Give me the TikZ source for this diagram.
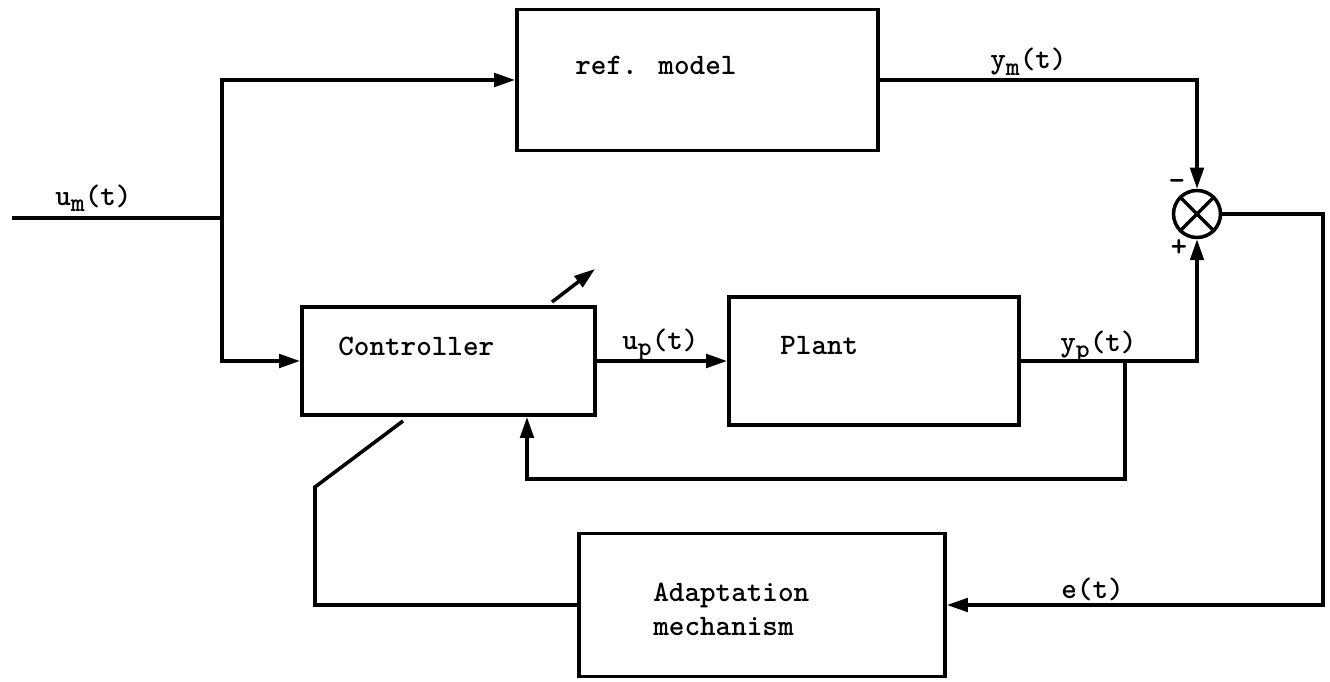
\documentclass[tikz,border=0pt]{standalone}
\usepackage{fontspec}
\usetikzlibrary{arrows.meta,calc}
\newcommand\lsub[1]{\raisebox{-0.5ex}{\fontsize{15}{15}\selectfont #1}}
\begin{document}
\begin{tikzpicture}[x=0.02cm,y=-0.02cm,
  blk/.style={draw, line width=2.2pt, inner sep=0pt},
  conn/.style={line width=2pt},
  arr/.style={conn, -{Triangle[length=0.42cm,width=0.27cm]}},
  txt/.style={font=\ttfamily\bfseries\fontsize{16.9}{20}\selectfont, inner sep=0pt, anchor=west},
  sgn/.style={font=\ttfamily\bfseries\fontsize{18}{20}\selectfont, inner sep=0pt}]
\useasboundingbox (0,0) rectangle (1330,682);

% blocks
\node[blk, minimum width=7.22cm, minimum height=2.82cm] (ref) at (697.5,80) {};
\node[blk, minimum width=5.86cm, minimum height=2.16cm] (ctrl) at (448.5,361) {};
\node[blk, minimum width=5.80cm, minimum height=2.56cm] (plant) at (874,361) {};
\node[blk, minimum width=7.32cm, minimum height=2.86cm] (adapt) at (762,605) {};
\node[draw, circle, line width=2pt, minimum size=0.94cm, inner sep=0pt] (sum) at (1197,214) {};
\draw[line width=2pt] (sum.north west) -- (sum.south east) (sum.north east) -- (sum.south west);

% texts
\node[txt] (tref) at (575,65) {ref. model};
\node[txt] (tctrl) at (338,346) {Controller};
\node[txt] (tplant) at (780,346) {Plant};
\node[txt] (tad1) at (653,595) {Adaptation};
\node[txt] (tad2) at (653,627) {mechanism};
\node[txt] (lum) at (55,198) {u\lsub{m}(t)};
\node[txt] (lup) at (622,345) {u\lsub{p}(t)};
\node[txt] (lyp) at (1060,347) {y\lsub{p}(t)};
\node[txt] (lym) at (990,62) {y\lsub{m}(t)};
\node[txt] (le) at (1061,589) {e(t)};
\node[sgn] (minus) at (1177,185) {-};
\node[sgn] (plus) at (1179,248) {+};

% coordinates
\coordinate (in) at (12,218);
\coordinate (j1) at (222,218);
\coordinate (fb) at (1125,361);
\coordinate (fb2) at (527,479);
\coordinate (c1) at (1323,605);
\coordinate (a1) at (315,605);
\coordinate (a2) at (315,487);
\coordinate (a3) at (403,421);
\coordinate (k1) at (552,302);
\coordinate (k2) at (595,269);

% connectors
\draw[conn] (in) -- (j1);
\draw[arr] (j1) |- (ref.west);
\draw[arr] (j1) |- (ctrl.west);
\draw[arr] (ctrl.east) -- (plant.west);
\draw[arr] (plant.east) -| (sum.south);
\draw[arr] (fb) |- (fb2) -- (fb2 |- ctrl.south);
\draw[arr] (ref.east) -| (sum.north);
\draw[arr] (sum.east) -| (c1) -- (adapt.east);
\draw[conn] (adapt.west) -- (a1) -- (a2) -- (a3);
\draw[arr] (k1) -- (k2);
\end{tikzpicture}
\end{document}
